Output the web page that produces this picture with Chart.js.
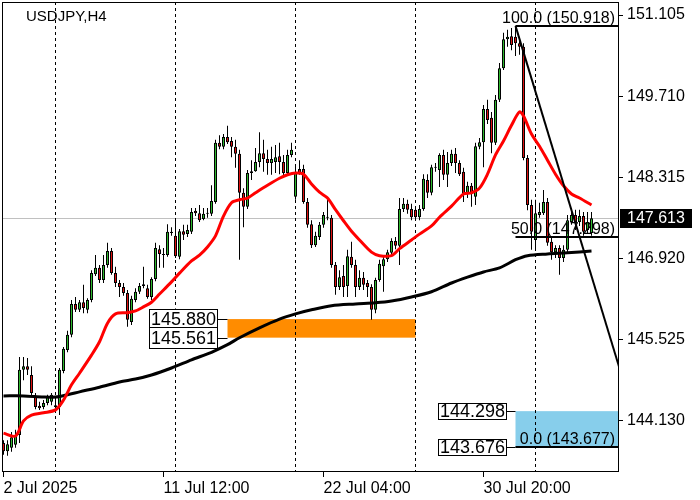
<!DOCTYPE html>
<html>
<head>
<meta charset="utf-8">
<title>USDJPY,H4</title>
<script src="https://cdn.jsdelivr.net/npm/chart.js@4.4.1/dist/chart.umd.min.js"></script>
<style>
  html, body { margin: 0; padding: 0; background: #fff; }
  #wrap { width: 700px; height: 500px; }
</style>
</head>
<body>
<div id="wrap"><canvas id="c" width="700" height="500"></canvas></div>
<script>
// H4 candles, one per bar index
const opens = [
  143.75, 143.61, 143.67, 143.72, 143.89, 145.01, 145.07, 144.92, 144.54, 144.39,
  144.37, 144.44, 144.46, 144.40, 144.37, 144.99, 145.35, 145.61, 146.14, 146.04,
  146.17, 146.04, 146.21, 146.65, 146.76, 146.55, 146.81, 147.05, 146.67, 146.50,
  146.43, 146.33, 145.83, 146.21, 146.35, 146.45, 146.41, 146.26, 146.57, 147.08,
  147.00, 146.98, 147.38, 147.31, 146.95, 147.39, 147.34, 147.38, 147.74, 147.70,
  147.60, 147.69, 147.69, 147.89, 148.91, 148.84, 149.01, 148.94, 148.84, 148.72,
  148.05, 147.81, 148.39, 148.42, 148.58, 148.73, 148.63, 148.56, 148.58, 148.68,
  148.58, 148.39, 148.70, 147.98, 148.46, 148.46, 147.89, 147.51, 147.15, 147.29,
  147.50, 147.63, 147.62, 146.81, 146.43, 146.62, 146.45, 146.95, 146.81, 146.43,
  146.59, 146.50, 146.43, 146.04, 146.55, 146.79, 146.91, 147.02, 147.22, 147.14,
  147.77, 147.86, 147.77, 147.76, 147.63, 147.77, 148.27, 148.05, 148.49, 148.44,
  148.70, 148.36, 148.56, 148.72, 148.56, 148.41, 148.03, 148.17, 147.98, 148.84,
  148.92, 149.49, 149.34, 148.91, 149.65, 150.19, 150.69, 150.74, 150.73, 150.62,
  150.56, 148.65, 147.84, 147.24, 147.67, 147.70, 147.89, 147.21, 147.03, 147.10,
  146.93, 147.07, 147.55, 147.67, 147.55, 147.65, 147.41, 147.36
];
const highs = [
  143.80, 143.80, 143.94, 143.98, 145.23, 145.23, 145.21, 145.07, 144.61, 144.46,
  144.49, 144.58, 144.61, 144.49, 145.04, 145.40, 145.68, 146.21, 146.26, 146.21,
  146.47, 146.24, 146.72, 146.98, 146.81, 146.98, 147.19, 147.10, 146.78, 146.55,
  146.50, 146.38, 146.28, 146.41, 146.50, 146.78, 146.47, 146.60, 147.19, 147.15,
  147.10, 147.51, 147.46, 147.58, 147.43, 147.50, 147.50, 147.79, 147.79, 147.84,
  147.79, 147.79, 148.18, 148.96, 149.04, 149.06, 149.20, 149.01, 148.96, 148.79,
  148.13, 148.44, 148.61, 148.82, 149.09, 148.96, 148.79, 148.84, 148.87, 148.91,
  148.70, 148.79, 148.91, 148.53, 148.61, 148.53, 147.96, 147.58, 147.38, 147.55,
  147.72, 147.93, 147.67, 146.86, 146.72, 146.81, 147.07, 147.21, 146.90, 146.72,
  146.69, 146.55, 146.48, 146.59, 146.90, 146.96, 147.07, 147.27, 147.29, 147.96,
  147.96, 147.93, 147.86, 147.82, 147.84, 148.37, 148.37, 148.53, 148.56, 148.73,
  148.79, 148.75, 148.79, 148.82, 148.61, 148.48, 148.24, 148.22, 148.91, 148.99,
  149.56, 149.65, 149.44, 149.73, 150.28, 150.80, 150.85, 150.88, 150.918, 150.73,
  150.62, 148.70, 147.93, 147.93, 147.88, 148.10, 147.96, 147.29, 147.15, 147.15,
  147.15, 147.67, 147.79, 147.76, 147.76, 147.72, 147.72, 147.72
];
const lows = [
  143.55, 143.53, 143.60, 143.67, 143.75, 144.83, 144.92, 144.54, 144.33, 144.32,
  144.33, 144.40, 144.40, 144.28, 144.23, 144.95, 145.31, 145.57, 146.00, 146.00,
  145.98, 145.98, 146.17, 146.62, 146.50, 146.50, 146.76, 146.64, 146.43, 146.26,
  146.28, 145.75, 145.78, 146.17, 146.31, 146.41, 146.23, 146.21, 146.53, 146.76,
  146.76, 146.95, 147.31, 146.93, 146.91, 147.24, 147.29, 147.34, 147.65, 147.55,
  147.58, 147.62, 147.65, 147.86, 148.80, 148.80, 148.89, 148.66, 148.48, 146.90,
  147.46, 147.77, 148.27, 148.41, 148.49, 148.41, 148.36, 148.36, 148.39, 148.37,
  148.34, 148.36, 148.66, 147.93, 148.36, 147.86, 147.45, 147.10, 147.12, 147.24,
  147.45, 147.58, 146.76, 146.30, 146.38, 146.26, 146.26, 146.76, 146.26, 146.38,
  146.38, 146.26, 145.87, 145.98, 146.52, 146.35, 146.86, 146.98, 147.08, 146.81,
  147.72, 147.69, 147.58, 147.58, 147.58, 147.74, 147.96, 148.01, 148.41, 148.15,
  148.27, 148.15, 148.51, 148.39, 148.34, 147.89, 147.96, 147.81, 147.84, 148.80,
  148.49, 149.23, 148.73, 148.87, 149.61, 150.16, 150.56, 150.50, 150.40, 150.42,
  148.61, 147.75, 147.07, 147.07, 147.62, 147.67, 147.14, 146.90, 146.93, 146.64,
  146.86, 147.03, 147.50, 147.41, 147.48, 147.31, 147.34, 147.31
];
const closes = [
  143.61, 143.73, 143.85, 143.89, 145.01, 145.07, 145.01, 144.61, 144.37, 144.35,
  144.44, 144.54, 144.58, 144.37, 145.01, 145.37, 145.61, 146.14, 146.04, 146.17,
  146.07, 146.21, 146.67, 146.76, 146.55, 146.81, 147.05, 146.67, 146.50, 146.43,
  146.33, 145.87, 146.23, 146.35, 146.45, 146.48, 146.26, 146.57, 147.10, 147.00,
  146.98, 147.38, 147.36, 146.96, 147.39, 147.33, 147.41, 147.72, 147.70, 147.58,
  147.69, 147.70, 147.91, 148.91, 148.84, 149.01, 148.92, 148.84, 148.72, 148.05,
  147.81, 148.39, 148.42, 148.58, 148.73, 148.63, 148.56, 148.63, 148.66, 148.58,
  148.39, 148.70, 148.79, 148.39, 148.39, 147.89, 147.50, 147.15, 147.31, 147.50,
  147.67, 147.62, 146.81, 146.43, 146.60, 146.43, 146.96, 146.81, 146.43, 146.59,
  146.47, 146.43, 146.04, 146.55, 146.83, 146.91, 147.03, 147.22, 147.14, 147.77,
  147.86, 147.76, 147.63, 147.63, 147.77, 148.29, 148.05, 148.49, 148.48, 148.70,
  148.36, 148.56, 148.72, 148.56, 148.37, 148.03, 148.17, 148.03, 148.85, 148.92,
  149.49, 149.30, 148.91, 149.65, 150.19, 150.69, 150.73, 150.59, 150.62, 150.56,
  148.65, 147.84, 147.38, 147.70, 147.72, 147.89, 147.19, 147.03, 147.10, 146.93,
  147.07, 147.58, 147.67, 147.55, 147.65, 147.38, 147.55, 147.613
];

// red moving average, sampled at bar indices
const fastMaIdx = [0, 3, 5, 7, 10, 13, 15, 17, 19, 22, 24, 26, 28, 31, 33, 35, 37, 39, 42, 44,
  47, 49, 51, 53, 55, 57, 59, 61, 63, 66, 69, 71, 73, 75, 77, 79, 81, 83, 85, 87,
  89, 92, 94, 97, 99, 102, 104, 107, 109, 112, 115, 117, 119, 121, 123, 125, 127, 129, 130, 132,
  134, 136, 138, 140, 142, 144, 147];
const fastMa = [143.92, 143.87, 144.13, 144.23, 144.27, 144.32, 144.49, 144.75, 144.95, 145.26,
  145.49, 145.81, 145.97, 145.99, 146.02, 146.09, 146.17, 146.31, 146.52, 146.67,
  146.88, 146.98, 147.12, 147.31, 147.65, 147.88, 147.93, 147.96, 148.05, 148.18,
  148.30, 148.36, 148.39, 148.37, 148.20, 148.06, 147.96, 147.76, 147.57, 147.39,
  147.24, 147.03, 146.97, 146.97, 147.09, 147.24, 147.34, 147.48, 147.63, 147.82,
  148.03, 148.05, 148.13, 148.37, 148.70, 148.94, 149.21, 149.44, 149.37, 149.06,
  148.85, 148.61, 148.37, 148.17, 148.03, 147.96, 147.84];

// black (slow) moving average
const slowMaIdx = [0, 5, 10, 13, 16, 19, 24, 29, 33, 37, 42, 47, 52, 56, 59, 64, 69, 73, 77, 82,
  88, 93, 97, 102, 107, 112, 116, 120, 124, 128, 131, 136, 141, 147];
const slowMa = [144.56, 144.56, 144.54, 144.54, 144.58, 144.63, 144.71, 144.80, 144.85, 144.92,
  145.04, 145.18, 145.31, 145.44, 145.56, 145.73, 145.88, 145.97, 146.04, 146.11,
  146.14, 146.16, 146.19, 146.26, 146.35, 146.50, 146.60, 146.69, 146.76, 146.90,
  146.97, 147.00, 147.02, 147.05];

const priceTicks = [151.105, 149.710, 148.315, 146.920, 145.525, 144.130];
const dateTickIdx = [0, 40, 80, 120];
const dateLabels = ['2 Jul 2025', '11 Jul 12:00', '22 Jul 04:00', '30 Jul 20:00'];
const weekSepIdx = [13, 43, 73, 103, 133];

const lastPrice = 147.613;
const orangeZone = [145.880, 145.561];
const orangeZoneIdx = [56, 103];
const blueZone = [144.298, 143.676];
const fiboHigh = 150.918;
const fiboLow = 143.677;
const fiboIdx = [128, 160];
const fiboLevels = [100, 50, 0];

const BULL = '#2eb82e';
const BEAR = '#dd1111';
const FONT = "'Liberation Sans', Arial, sans-serif";

Chart.defaults.font.family = FONT;
Chart.defaults.font.size = 16;
Chart.defaults.color = '#000';

const wickData = opens.map((o, i) => ({ x: i, y: [lows[i], highs[i]] }));
const bodyData = opens.map((o, i) => ({ x: i, y: [o, closes[i]] }));
const bodyColors = opens.map((o, i) => (closes[i] >= o ? BULL : BEAR));

// axes must not push the plot frame inwards
function noMargins(s) {
  s.paddingTop = 0;
  s.paddingBottom = 0;
  s.paddingLeft = 0;
  s.paddingRight = 0;
}

function priceBox(ctx, right, py, h, text) {
  const w = 68;
  ctx.fillStyle = '#fff';
  ctx.fillRect(right - w, py - h / 2, w, h);
  ctx.strokeStyle = '#000';
  ctx.lineWidth = 1;
  ctx.strokeRect(Math.round(right - w) + 0.5, Math.round(py - h / 2) + 0.5, w, h);
  ctx.fillStyle = '#000';
  ctx.font = '18px ' + FONT;
  ctx.textAlign = 'center';
  ctx.textBaseline = 'middle';
  ctx.fillText(text, right - w / 2 + 0.5, py + 1);
}

const mt4 = {
  id: 'mt4',
  beforeDatasetsDraw(chart) {
    const { ctx, chartArea: a, scales: { x, y } } = chart;
    ctx.save();
    ctx.beginPath();
    ctx.rect(a.left, a.top, a.right - a.left, a.bottom - a.top);
    ctx.clip();

    // zones in background
    const ox0 = x.getPixelForValue(orangeZoneIdx[0]);
    const ox1 = x.getPixelForValue(orangeZoneIdx[1]);
    const oy0 = y.getPixelForValue(orangeZone[0]);
    const oy1 = y.getPixelForValue(orangeZone[1]);
    ctx.fillStyle = '#ff8c00';
    ctx.fillRect(ox0, oy0, ox1 - ox0, oy1 - oy0);

    const bx0 = x.getPixelForValue(fiboIdx[0]);
    const by0 = y.getPixelForValue(blueZone[0]);
    const by1 = y.getPixelForValue(blueZone[1]);
    ctx.fillStyle = '#87ceeb';
    ctx.fillRect(bx0, by0, a.right - bx0, by1 - by0);

    // bid line
    const lp = Math.round(y.getPixelForValue(lastPrice)) + 0.5;
    ctx.strokeStyle = '#c0c0c0';
    ctx.lineWidth = 1;
    ctx.beginPath();
    ctx.moveTo(a.left, lp);
    ctx.lineTo(a.right, lp);
    ctx.stroke();

    // period separators
    ctx.strokeStyle = '#000';
    ctx.setLineDash([3, 3]);
    weekSepIdx.forEach((k) => {
      const px = x.getPixelForValue(k);
      ctx.beginPath();
      ctx.moveTo(px, a.top);
      ctx.lineTo(px, a.bottom);
      ctx.stroke();
    });
    ctx.restore();
  },
  afterDraw(chart) {
    const { ctx, chartArea: a, scales: { x, y } } = chart;
    ctx.save();
    ctx.beginPath();
    ctx.rect(a.left, a.top, a.right - a.left, a.bottom - a.top);
    ctx.clip();

    // fibo trend line
    const fx0 = x.getPixelForValue(fiboIdx[0]);
    const fx1 = x.getPixelForValue(fiboIdx[1]);
    ctx.strokeStyle = '#000';
    ctx.lineWidth = 2;
    ctx.beginPath();
    ctx.moveTo(fx0, y.getPixelForValue(fiboHigh));
    ctx.lineTo(fx1, y.getPixelForValue(fiboLow));
    ctx.stroke();

    // fibo levels
    ctx.font = '16px ' + FONT;
    ctx.textAlign = 'right';
    ctx.textBaseline = 'alphabetic';
    fiboLevels.forEach((lv) => {
      const v = fiboLow + (fiboHigh - fiboLow) * lv / 100;
      const py = Math.round(y.getPixelForValue(v));
      ctx.fillStyle = '#000';
      ctx.fillRect(fx0, py - 1, a.right - fx0, 2);
      ctx.fillText(lv.toFixed(1) + ' (' + v.toFixed(3) + ')', a.right - 4, py - 3);
    });
    ctx.restore();

    // price labels of the zones
    ctx.save();
    ctx.strokeStyle = '#000';
    ctx.lineWidth = 1;
    const ox0 = x.getPixelForValue(orangeZoneIdx[0]);
    const bx0 = x.getPixelForValue(fiboIdx[0]);
    [[ox0, orangeZone, 21], [bx0, blueZone, 16]].forEach(([left, zone, h]) => {
      zone.forEach((v) => {
        const py = y.getPixelForValue(v);
        const right = Math.round(left) - 10;
        ctx.beginPath();
        ctx.moveTo(right, Math.round(py) + 0.5);
        ctx.lineTo(left, Math.round(py) + 0.5);
        ctx.stroke();
        priceBox(ctx, right, py, h, v.toFixed(3));
      });
    });

    // frame
    ctx.strokeStyle = '#000';
    ctx.lineWidth = 1;
    ctx.strokeRect(a.left + 0.5, a.top + 0.5, a.right - a.left - 1, a.bottom - a.top - 1);

    // bid label on the price axis
    const lp = Math.round(y.getPixelForValue(lastPrice));
    ctx.fillStyle = '#000';
    ctx.fillRect(a.right + 1, lp - 9, 72, 19);
    ctx.fillStyle = '#fff';
    ctx.font = '16px ' + FONT;
    ctx.textAlign = 'left';
    ctx.textBaseline = 'middle';
    ctx.fillText(lastPrice.toFixed(3), a.right + 8, lp + 1);

    // symbol caption
    ctx.fillStyle = '#000';
    ctx.font = '15px ' + FONT;
    ctx.textBaseline = 'alphabetic';
    ctx.fillText('USDJPY,H4', 26, 21);
    ctx.restore();
  }
};

new Chart(document.getElementById('c'), {
  type: 'bar',
  data: {
    datasets: [
      {
        type: 'line', label: 'MA fast', order: 0,
        data: fastMaIdx.map((k, i) => ({ x: k, y: fastMa[i] })),
        borderColor: '#ff0000', borderWidth: 3, pointRadius: 0, tension: 0.3
      },
      {
        type: 'line', label: 'MA slow', order: 0,
        data: slowMaIdx.map((k, i) => ({ x: k, y: slowMa[i] })),
        borderColor: '#000', borderWidth: 3, pointRadius: 0, tension: 0.3
      },
      {
        label: 'body', order: 1, data: bodyData, grouped: false,
        backgroundColor: bodyColors, borderColor: '#000', borderWidth: 1,
        borderSkipped: false, barThickness: 3, minBarLength: 1, inflateAmount: 0
      },
      {
        label: 'wick', order: 2, data: wickData, grouped: false,
        backgroundColor: '#000', borderWidth: 0, barThickness: 1, inflateAmount: 0
      }
    ]
  },
  options: {
    responsive: false,
    animation: false,
    events: [],
    layout: { padding: { left: 2, top: 2, right: 0, bottom: 0 } },
    plugins: { legend: { display: false }, tooltip: { enabled: false } },
    scales: {
      x: {
        type: 'linear', min: -0.375, max: 153.875, offset: false,
        grid: { offset: false, drawOnChartArea: false, drawTicks: true, tickLength: 5, tickColor: '#000' },
        border: { display: false },
        ticks: {
          autoSkip: false, maxRotation: 0, minRotation: 0, align: 'start', padding: 2,
          color: '#000', font: { size: 16 },
          callback: (v) => dateLabels[dateTickIdx.indexOf(v)]
        },
        afterBuildTicks: (s) => { s.ticks = dateTickIdx.map((v) => ({ value: v })); },
        afterFit: (s) => { s.height = 28; noMargins(s); }
      },
      y: {
        type: 'linear', position: 'right', min: 143.2526, max: 151.3284,
        grid: { drawOnChartArea: false, drawTicks: true, tickLength: 4, tickColor: '#000' },
        border: { display: false },
        ticks: { padding: 4, color: '#000', font: { size: 16 }, callback: (v) => v.toFixed(3) },
        afterBuildTicks: (s) => { s.ticks = priceTicks.map((v) => ({ value: v })); },
        afterFit: (s) => { s.width = 81; noMargins(s); }
      }
    }
  },
  plugins: [mt4]
});
</script>
</body>
</html>
